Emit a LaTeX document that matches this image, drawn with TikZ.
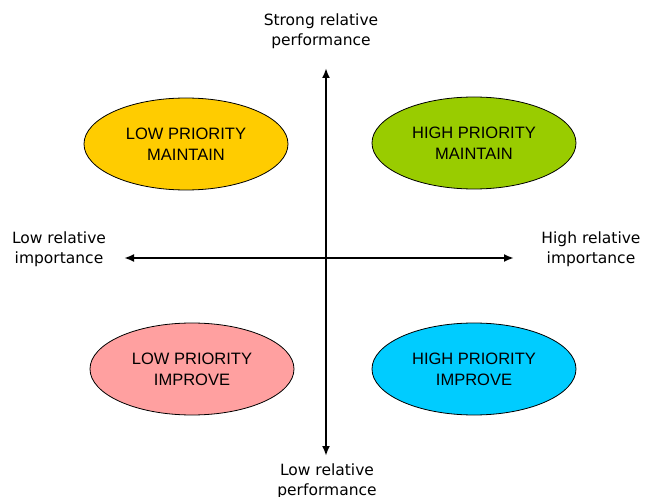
\documentclass[tikz,border=0pt]{standalone}
\usepackage{fontspec}
\usepackage{tikz}
\usetikzlibrary{arrows.meta, shapes.geometric}
\newfontfamily\boxfont{Liberation Sans}
\newfontfamily\labelfont{DejaVu Sans}
\definecolor{lpmaintain}{HTML}{FFCC00}
\definecolor{hpmaintain}{HTML}{99CC00}
\definecolor{lpimprove}{HTML}{FFA0A0}
\definecolor{hpimprove}{HTML}{00CCFF}
\tikzset{%
    axis/.style={%
        line width=2.2pt,
        {Latex[length=10pt,width=8pt]}-{Latex[length=10pt,width=8pt]},
    },
    quadrant/.style={%
        ellipse,
        draw=black, line width=0.8pt,
        minimum width=204pt,
        minimum height=92pt,
        inner sep=0pt,
        align=center,
        font=\boxfont\fontsize{16.5}{21}\selectfont,
    },
    axislabel/.style={%
        align=center,
        inner sep=0pt,
        font=\labelfont\fontsize{15.5}{19.5}\selectfont,
    },
}
\begin{document}
\begin{tikzpicture}[x=1pt, y=-1pt]
	\useasboundingbox (0, 0) rectangle (646, 497);
	\coordinate (top) at (326, 68);
	\coordinate (bottom) at (326, 456);
	\coordinate (left) at (124, 258);
	\coordinate (right) at (514, 258);

	\node [quadrant, fill=lpmaintain] at (186, 144) (lp_maintain) {LOW PRIORITY\\MAINTAIN};
	\node [quadrant, fill=hpmaintain] at (474, 143) (hp_maintain) {HIGH PRIORITY\\MAINTAIN};
	\node [quadrant, fill=lpimprove] at (192, 369) (lp_improve) {LOW PRIORITY\\IMPROVE};
	\node [quadrant, fill=hpimprove] at (474, 369) (hp_improve) {HIGH PRIORITY\\IMPROVE};

	\node [axislabel] at (321, 31) (strong_perf) {Strong relative\\performance};
	\node [axislabel] at (327, 481) (low_perf) {Low relative\\performance};
	\node [axislabel] at (59, 249) (low_imp) {Low relative\\importance};
	\node [axislabel] at (591, 249) (high_imp) {High relative\\importance};

	\draw[axis] (bottom) -- (top);
	\draw[axis] (left) -- (right);
\end{tikzpicture}
\end{document}
